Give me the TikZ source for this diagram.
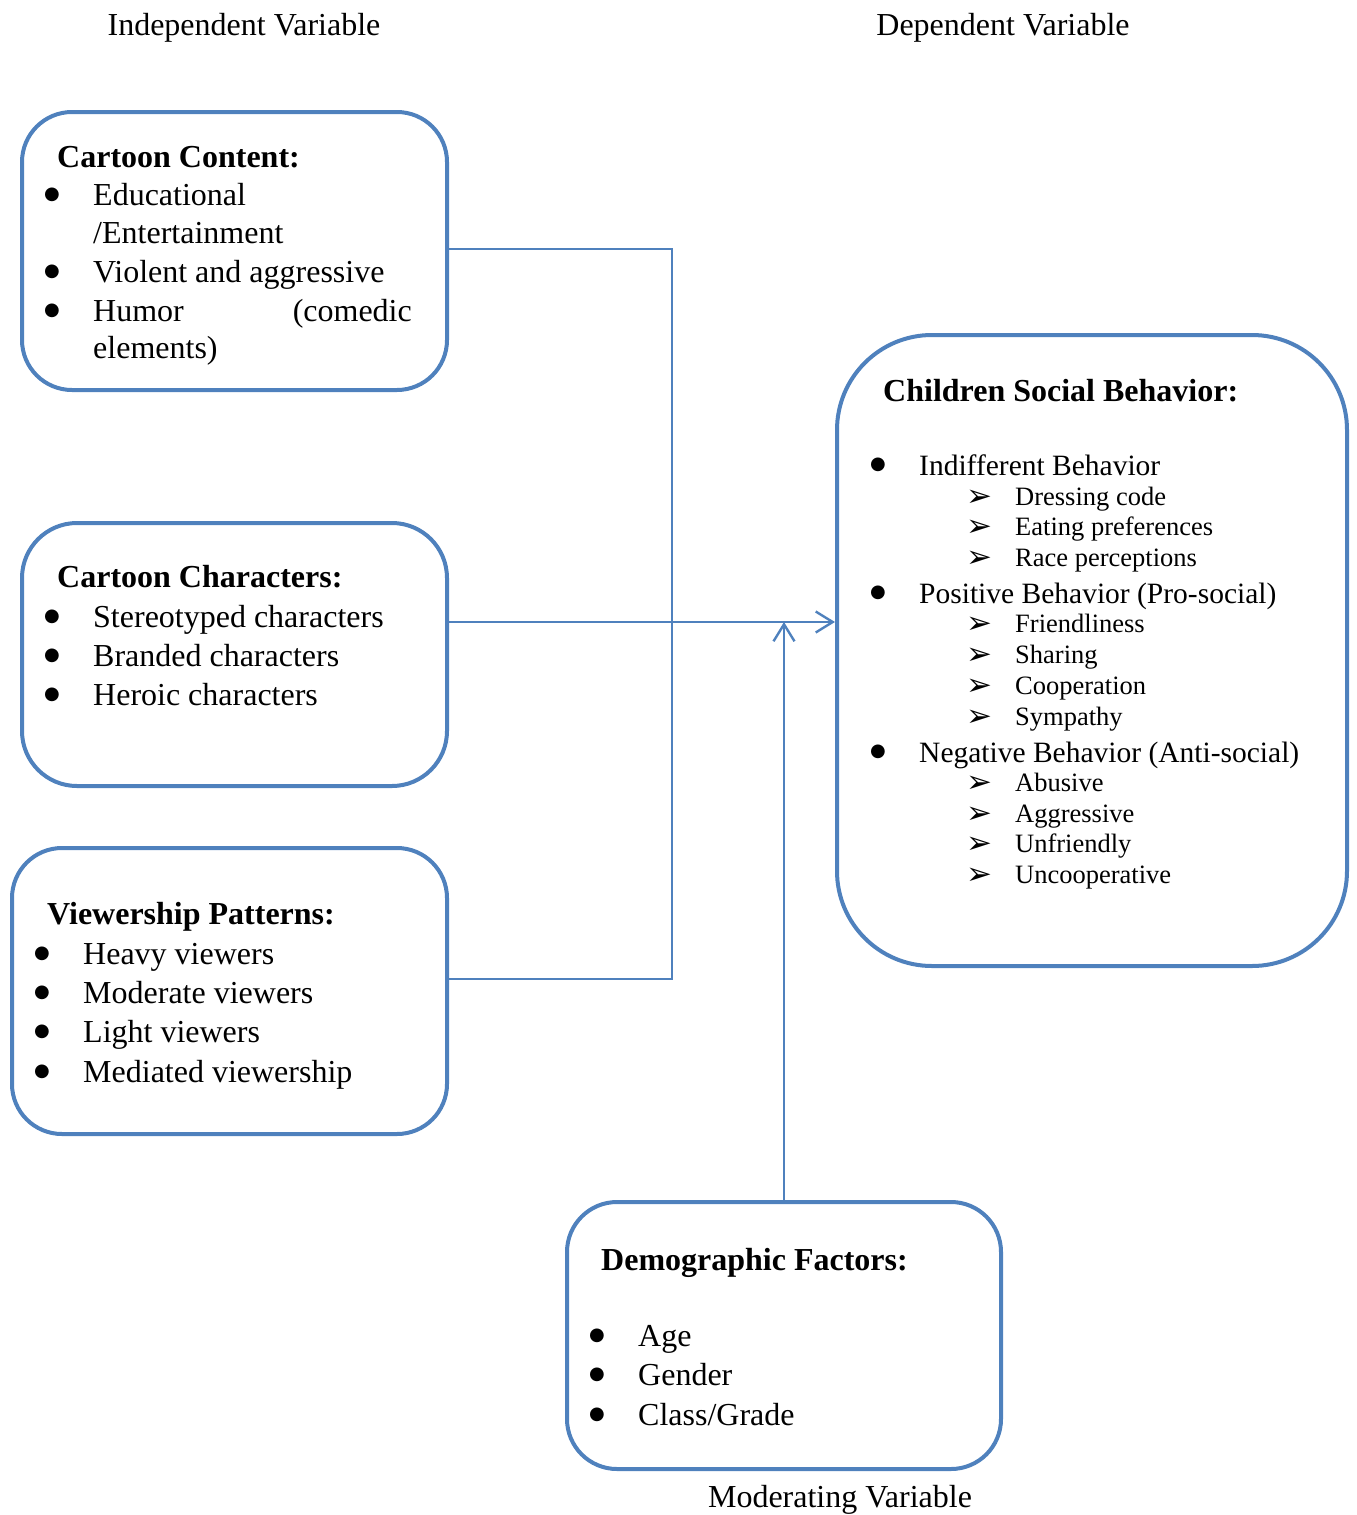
\documentclass[tikz,border=0pt]{standalone}
\usepackage{fontspec}
\setmainfont{Liberation Serif}
\newfontfamily\symfont{DejaVu Sans}
\usetikzlibrary{arrows.meta}
\definecolor{boxblue}{RGB}{79,129,189}
\newcommand{\bulitem}[1]{\makebox[49pt][l]{\raisebox{6pt}{\symfont\fontsize{18}{18}\selectfont ●}}#1}
\newcommand{\subarr}[1]{\makebox[49pt][l]{\raisebox{-1pt}{\symfont\bfseries\fontsize{31}{30}\selectfont ➢}}#1}

\begin{document}
\begin{tikzpicture}[x=1pt, y=-1pt, >={Straight Barb[length=17pt,width=21pt,line width=2.4pt]}]
        \tikzset{
            frame/.style={draw=boxblue, line width=4pt, rounded corners=50pt, inner sep=0pt},
            head/.style={anchor=base west, inner sep=0pt, font=\fontsize{32}{36}\selectfont\bfseries},
            item/.style={anchor=base west, inner sep=0pt, font=\fontsize{32}{36}\selectfont},
            mainitem/.style={item, font=\fontsize{29.5}{34}\selectfont},
            subitem/.style={anchor=base west, inner sep=0pt, font=\fontsize{26.5}{30}\selectfont},
            link/.style={draw=boxblue, line width=1.6pt}
        }
        \useasboundingbox (0,0) rectangle (1357,1515);

        % Variable titles
        \node[item, anchor=base] (indep) at (244,35) {Independent Variable};
        \node[item, anchor=base] (dep) at (1003,35) {Dependent Variable};
        \node[item, anchor=base] (moder) at (840,1507) {Moderating Variable};

        % Box outlines
        \node[frame, minimum width=425pt, minimum height=278pt] (content) at (234.5,251) {};
        \node[frame, minimum width=425pt, minimum height=263pt, rounded corners=55pt] (characters) at (234.5,654.5) {};
        \node[frame, minimum width=435pt, minimum height=286pt] (viewing) at (229.5,991) {};
        \node[frame, minimum width=510pt, minimum height=631pt, rounded corners=95pt] (behavior) at (1092,650.5) {};
        \node[frame, minimum width=434pt, minimum height=267pt] (demog) at (784,1335.5) {};

        % Cartoon content
        \node[head] (ccHead) at (57,167) {Cartoon Content:};
        \node[item] (cc1) at (44,205) {\bulitem{Educational}};
        \node[item] (cc1b) at (93,243) {/Entertainment};
        \node[item] (cc2) at (44,282) {\bulitem{Violent and aggressive}};
        \node[item] (cc3) at (44,321) {\bulitem{Humor}};
        \node[item, anchor=base east] (cc3b) at (412,321) {(comedic};
        \node[item] (cc3c) at (93,358) {elements)};

        % Cartoon characters
        \node[head] (chHead) at (57,587) {Cartoon Characters:};
        \node[item] (ch1) at (44,627) {\bulitem{Stereotyped characters}};
        \node[item] (ch2) at (44,666) {\bulitem{Branded characters}};
        \node[item] (ch3) at (44,705) {\bulitem{Heroic characters}};

        % Viewership patterns
        \node[head] (vpHead) at (47,924) {Viewership Patterns:};
        \node[item] (vp1) at (34,964) {\bulitem{Heavy viewers}};
        \node[item] (vp2) at (34,1003) {\bulitem{Moderate viewers}};
        \node[item] (vp3) at (34,1042) {\bulitem{Light viewers}};
        \node[item] (vp4) at (34,1082) {\bulitem{Mediated viewership}};

        % Children social behavior
        \node[head] (sbHead) at (883,401) {Children Social Behavior:};
        \node[mainitem] (sb1) at (870,475) {\bulitem{Indifferent Behavior}};
        \node[subitem] (sb1a) at (966,505) {\subarr{Dressing code}};
        \node[subitem] (sb1b) at (966,535) {\subarr{Eating preferences}};
        \node[subitem] (sb1c) at (966,566) {\subarr{Race perceptions}};
        \node[mainitem] (sb2) at (870,603) {\bulitem{Positive Behavior (Pro-social)}};
        \node[subitem] (sb2a) at (966,632) {\subarr{Friendliness}};
        \node[subitem] (sb2b) at (966,663) {\subarr{Sharing}};
        \node[subitem] (sb2c) at (966,694) {\subarr{Cooperation}};
        \node[subitem] (sb2d) at (966,725) {\subarr{Sympathy}};
        \node[mainitem] (sb3) at (870,762) {\bulitem{Negative Behavior (Anti-social)}};
        \node[subitem] (sb3a) at (966,791) {\subarr{Abusive}};
        \node[subitem] (sb3b) at (966,822) {\subarr{Aggressive}};
        \node[subitem] (sb3c) at (966,852) {\subarr{Unfriendly}};
        \node[subitem] (sb3d) at (966,883) {\subarr{Uncooperative}};

        % Demographic factors
        \node[head] (dfHead) at (601,1270) {Demographic Factors:};
        \node[item] (df1) at (589,1346) {\bulitem{Age}};
        \node[item] (df2) at (589,1385) {\bulitem{Gender}};
        \node[item] (df3) at (589,1425) {\bulitem{Class/Grade}};

        % Connectors
        \coordinate (jtop) at (672,249);
        \coordinate (jbot) at (672,979);
        \coordinate (meet) at (784,622);
        \draw[link] (content.east |- jtop) -- (jtop) -- (jbot) -- (viewing.east |- jbot);
        \draw[link, ->] (characters.east |- meet) -- (behavior.west |- meet);
        \draw[link, ->] (demog.north) -- (meet);
    \end{tikzpicture}
\end{document}
